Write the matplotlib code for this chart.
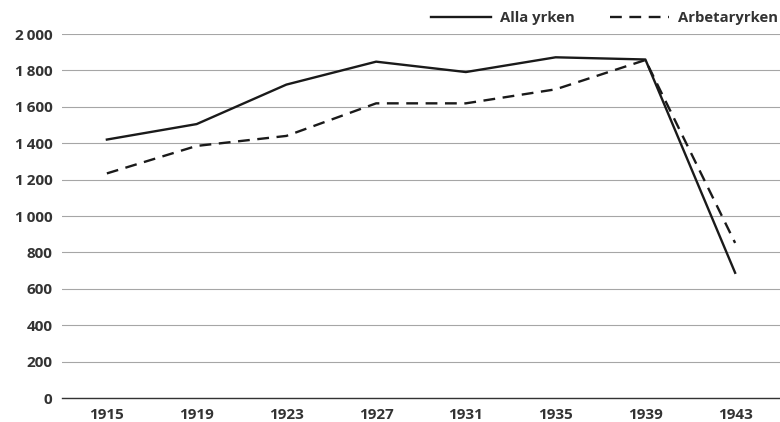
import matplotlib
matplotlib.use('Agg')
import matplotlib.pyplot as plt
from matplotlib.ticker import FuncFormatter

# data
years = ['1915', '1919', '1923', '1927', '1931', '1935', '1939', '1943']
alla_yrken = [1420, 1505, 1722, 1848, 1791, 1872, 1860, 688]
arbetaryrken = [1234, 1385, 1440, 1619, 1619, 1696, 1857, 852]
y_ticks = [0, 200, 400, 600, 800, 1000, 1200, 1400, 1600, 1800, 2000]

TEXT_COLOR = '#333333'
LINE_COLOR = '#1a1a1a'

plt.rcParams['font.family'] = ['Open Sans', 'DejaVu Sans']
plt.rcParams['font.weight'] = 'bold'

fig = plt.figure(figsize=(7.8, 4.22), dpi=100)
ax = fig.add_axes([62 / 780, 24 / 422, 1 - 62 / 780, (398 - 34) / 422])

x = list(range(len(years)))
ax.plot(x, alla_yrken, color=LINE_COLOR, lw=1.7, label='Alla yrken', clip_on=False)
ax.plot(x, arbetaryrken, color=LINE_COLOR, lw=1.7, dashes=(5.0, 3.2), label='Arbetaryrken', clip_on=False)

ax.set_xlim(-0.5, len(years) - 0.5)
ax.set_ylim(0, 2000)
ax.set_xticks(x)
ax.set_xticklabels(years)
ax.set_yticks(y_ticks)
ax.yaxis.set_major_formatter(FuncFormatter(lambda v, p: f'{int(v):,}'.replace(',', '\u2009')))

ax.grid(axis='y', color='#a6a6a6', lw=0.8)
ax.set_axisbelow(True)
for side in ['top', 'right', 'left']:
    ax.spines[side].set_visible(False)
ax.spines['bottom'].set_color('#333333')
ax.spines['bottom'].set_linewidth(1.0)
ax.tick_params(length=0, labelsize=11, colors=TEXT_COLOR, pad=7)
ax.tick_params(axis='y', pad=7)

leg = fig.legend(loc='upper right', bbox_to_anchor=(1.015, 1.005), ncol=2, frameon=False,
                 fontsize=10.7, handlelength=4.0, columnspacing=2.4, handletextpad=0.6)
for t in leg.get_texts():
    t.set_color(TEXT_COLOR)

fig.savefig('out.png', dpi=100)
